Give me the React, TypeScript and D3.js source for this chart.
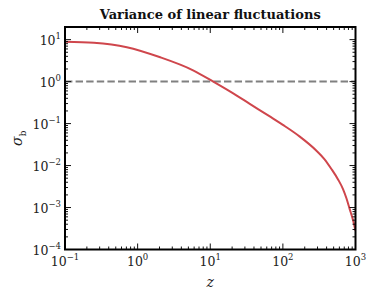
import * as d3 from "d3";

// redshift and variance
const zVals = [0.1, 0.25, 0.71, 2.0, 5.8, 11, 20.7, 35, 66, 100, 171, 288, 370, 466, 575, 673, 750, 830, 925, 1000];
const sigmaVals = [
  8.95, 8.45, 6.61, 3.85, 1.86, 1.0, 0.525, 0.295, 0.148, 0.0933, 0.049, 0.0229, 0.0145, 0.0083, 0.00468, 0.00275,
  0.00166, 0.00093, 0.0005, 0.00028,
];

const xDecades = [-1, 0, 1, 2, 3];
const yDecades = [-4, -3, -2, -1, 0, 1];
const refLine = [1];

const W = 374;
const H = 304;
const margin = { top: 27, right: 18.5, bottom: 54.5, left: 65 };
const serif = "DejaVu Serif";

function Pow10({ e, x, y, anchor }: { e: number; x: number; y: number; anchor: string }) {
  const exp = e < 0 ? "\u2212" + Math.abs(e) : String(e);
  return (
    <text x={x} y={y} textAnchor={anchor} fontFamily={serif} fontSize={12.5} fill="#222">
      10
      <tspan dy={-5.5} fontSize={8.5}>
        {exp}
      </tspan>
    </text>
  );
}

export default function App() {
  const x = d3.scaleLog().domain([0.1, 1000]).range([margin.left, W - margin.right]);
  const y = d3.scaleLog().domain([1e-4, 20]).range([H - margin.bottom, margin.top]);
  const x0 = margin.left;
  const x1 = W - margin.right;
  const y0 = H - margin.bottom;
  const y1 = margin.top;

  const line = d3
    .line<number>()
    .x((_, i) => x(zVals[i]))
    .y((d) => y(d))
    .curve(d3.curveMonotoneX);

  const isMajor = (v: number) => Math.abs(Math.log10(v) - Math.round(Math.log10(v))) < 1e-9;
  const xTicks = x.ticks().filter((v) => v >= 0.1 && v <= 1000);
  const yTicks = y.ticks().filter((v) => v >= 1e-4 && v <= 20);

  return (
    <div style={{ position: "fixed", left: 0, top: 0 }}>
      <svg width={W} height={H} style={{ display: "block", background: "#fff" }}>
        <text x={(x0 + x1) / 2} y={19} textAnchor="middle" fontFamily={serif} fontWeight="bold" fontSize={13} fill="#111">
          Variance of linear fluctuations
        </text>

        <g clipPath="url(#plotclip)">
          <clipPath id="plotclip">
            <rect x={x0} y={y1} width={x1 - x0} height={y0 - y1} />
          </clipPath>
          {refLine.map((v) => (
            <line key={v} x1={x0} x2={x1} y1={y(v)} y2={y(v)} stroke="#808080" strokeWidth={2} strokeDasharray="7.4,3.2" />
          ))}
          <path d={line(sigmaVals) || ""} fill="none" stroke="#cf464c" strokeWidth={2} />
        </g>

        {xTicks.map((v, i) => {
          const len = isMajor(v) ? 6 : 3;
          return (
            <g key={"xt" + i} stroke="#111" strokeWidth={1}>
              <line x1={x(v)} x2={x(v)} y1={y0} y2={y0 - len} />
              <line x1={x(v)} x2={x(v)} y1={y1} y2={y1 + len} />
            </g>
          );
        })}
        {yTicks.map((v, i) => {
          const len = isMajor(v) ? 6 : 3;
          return (
            <g key={"yt" + i} stroke="#111" strokeWidth={1}>
              <line x1={x0} x2={x0 + len} y1={y(v)} y2={y(v)} />
              <line x1={x1} x2={x1 - len} y1={y(v)} y2={y(v)} />
            </g>
          );
        })}

        <rect x={x0} y={y1} width={x1 - x0} height={y0 - y1} fill="none" stroke="#000" strokeWidth={2} />

        {xDecades.map((d) => (
          <Pow10 key={"xl" + d} e={d} x={x(Math.pow(10, d))} y={y0 + 16} anchor="middle" />
        ))}
        {yDecades.map((d) => (
          <Pow10 key={"yl" + d} e={d} x={x0 - 4} y={y(Math.pow(10, d)) + 5} anchor="end" />
        ))}

        <text x={(x0 + x1) / 2} y={287} textAnchor="middle" fontFamily={serif} fontStyle="italic" fontSize={14} fill="#222">
          z
        </text>
        <text
          transform={`translate(22, ${(y0 + y1) / 2}) rotate(-90)`}
          textAnchor="middle"
          fontFamily={serif}
          fontSize={14}
          fill="#222"
        >
          <tspan fontStyle="italic">σ</tspan>
          <tspan dy={4} fontSize={9}>b</tspan>
        </text>
      </svg>
    </div>
  );
}
